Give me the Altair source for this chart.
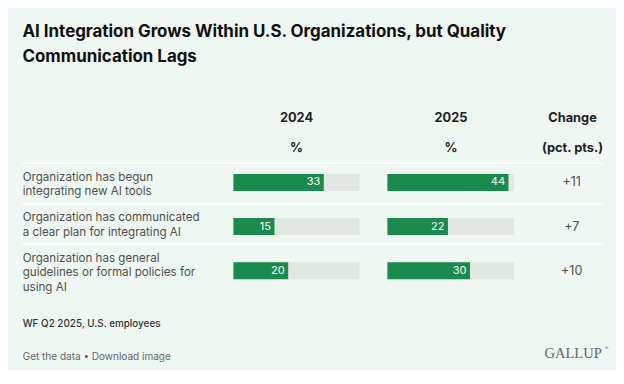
import altair as alt
import pandas as pd

# ---- data ----
labels = [
    "Organization has begun\nintegrating new AI tools",
    "Organization has communicated\na clear plan for integrating AI",
    "Organization has general\nguidelines or formal policies for\nusing AI",
]
pct_2024 = [33, 15, 20]
pct_2025 = [44, 22, 30]
years = ["2024", "2025"]
title_lines = ["AI Integration Grows Within U.S. Organizations, but Quality",
               "Communication Lags"]
source_note = "WF Q2 2025, U.S. employees"
footer_links = "Get the data \u2022 Download image"
brand = "GALLUP"

df = pd.DataFrame({"label": labels, "v2024": pct_2024, "v2025": pct_2025})

# ---- styles ----
BG = "#eef7f1"
GREEN = "#1a8a4e"
TRACK = "#e2e7e2"
FONT = "Inter"
DMAX = 46

base = alt.Chart(df).transform_calculate(
    change_txt="'+' + (datum.v2025 - datum.v2024)",
)

# row band scale for bars / change values
yscale = alt.Scale(range=[152.3, 284.8], paddingInner=0, paddingOuter=0)
Y = alt.Y("label:N", sort=labels, scale=yscale, axis=None)

# row scale for separators and label text
top_scale = alt.Scale(range=[155.3, 276.8], paddingInner=0, paddingOuter=0)
YTOP = alt.Y("label:N", sort=labels, bandPosition=0, axis=None, scale=top_scale)
YROW = alt.Y("label:N", sort=labels, axis=None, scale=top_scale)

sx24 = alt.Scale(domain=[0, DMAX], range=[225.4, 351.4])
sx25 = alt.Scale(domain=[0, DMAX], range=[379.4, 506.0])

seps = base.mark_rule(color="white", strokeWidth=1.5).encode(
    y=YTOP, x=alt.value(14), x2=alt.value(595),
)

row_labels = base.mark_text(align="left", baseline="alphabetic", dy=-2.7, font=FONT,
                            fontSize=11.6, color="#505050", lineBreak="\n",
                            lineHeight=14.6).encode(
    y=YROW, x=alt.value(14.7), text="label:N",
)

def bar_layers(field, sx):
    track = base.mark_bar(height=17, color=TRACK).encode(
        x=alt.X(datum=0, type="quantitative", scale=sx, axis=None),
        x2=alt.X2(datum=DMAX),
        y=Y,
    )
    fill = base.mark_bar(height=17, color=GREEN).encode(
        x=alt.X(f"{field}:Q", scale=sx, axis=None),
        y=Y,
    )
    vals = base.mark_text(align="right", baseline="middle", dx=-3.5, font=FONT,
                          fontSize=11, color="white").encode(
        x=alt.X(f"{field}:Q", scale=sx, axis=None),
        y=Y,
        text=alt.Text(f"{field}:Q"),
    )
    return [track, fill, vals]

change = base.mark_text(align="center", baseline="middle", font=FONT, fontSize=12.5,
                        color="#505050").encode(
    x=alt.value(563.7), y=Y, text="change_txt:N",
)

def txt(text, x, y, align="left", size=12, weight="normal", color="#222222",
        font=FONT, lh=26):
    return alt.Chart(pd.DataFrame({"t": [text]})).mark_text(
        align=align, baseline="alphabetic", fontSize=size, fontWeight=weight,
        color=color, font=font, lineBreak="\n", lineHeight=lh,
    ).encode(x=alt.value(x), y=alt.value(y), text="t:N")

HS = 12.8
headers = [
    txt(years[0], 288.5, 113.7, "center", HS, "bold"),
    txt("%", 288.5, 144, "center", HS, "bold"),
    txt(years[1], 443, 113.7, "center", HS, "bold"),
    txt("%", 443, 144, "center", HS, "bold"),
    txt("Change", 564.5, 113.7, "center", HS, "bold"),
    txt("(pct. pts.)", 564.5, 144, "center", HS, "bold"),
]

title = txt("\n".join(title_lines), 14.5, 28.5, "left", 16.9, "bold", "#111111", lh=25.5)
note = txt(source_note, 14.7, 319.3, "left", 9.9, 500, "#333333")
links = txt(footer_links, 14.7, 352, "left", 10, "normal", "#666666")
logo = txt(brand, 593.7, 350.3, "right", 14.5, "normal", "#666666", "Liberation Serif")
reg = txt("\u00ae", 597, 342, "left", 5, "normal", "#888888")

layers = ([seps, row_labels] + bar_layers("v2024", sx24) + bar_layers("v2025", sx25)
          + [change] + headers + [title, note, links, logo, reg])

chart = alt.layer(*layers).resolve_scale(x="independent", y="independent").properties(
    width=608, height=362, background=BG, padding=0, autosize="none",
).configure_view(stroke=None)

chart.save("out.html", embed_options={"renderer": "svg", "actions": False})
